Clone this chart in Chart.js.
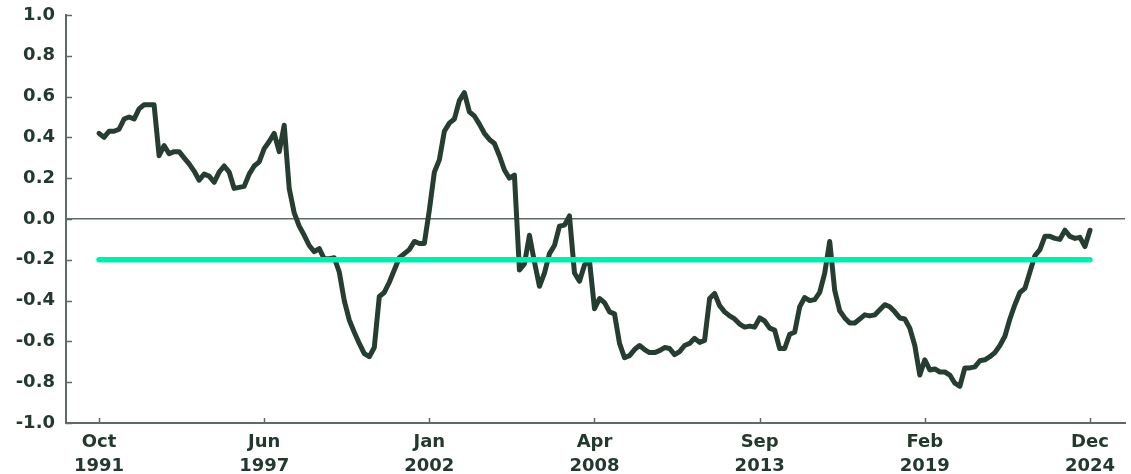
<!DOCTYPE html>
<html><head><meta charset="utf-8">
<script src="https://cdn.jsdelivr.net/npm/chart.js@4.4.1/dist/chart.umd.min.js"></script>
<style>html,body{margin:0;padding:0;background:#fff}#wrap{width:1131px;height:474px}</style>
</head><body><div id="wrap"><canvas id="c" width="1131" height="474"></canvas></div>
<script>
const tickLabels = [["Oct","1991"],["Jun","1997"],["Jan","2002"],["Apr","2008"],["Sep","2013"],["Feb","2019"],["Dec","2024"]];
const pointsPerTick = 33;
const threshold = -0.2;
const yMin = -1.0, yMax = 1.0, yStep = 0.2;
const series = [
  0.42,0.40,0.43,0.43,0.44,0.49,0.50,0.49,0.54,0.56,
  0.56,0.56,0.31,0.36,0.32,0.33,0.33,0.30,0.27,0.235,
  0.19,0.22,0.21,0.18,0.23,0.26,0.23,0.15,0.155,0.16,
  0.22,0.26,0.28,0.345,0.38,0.42,0.33,0.46,0.15,0.03,
  -0.035,-0.08,-0.13,-0.16,-0.145,-0.195,-0.195,-0.19,-0.26,-0.40,
  -0.495,-0.555,-0.61,-0.66,-0.675,-0.63,-0.38,-0.36,-0.31,-0.25,
  -0.19,-0.17,-0.15,-0.11,-0.12,-0.12,0.044,0.23,0.29,0.43,
  0.47,0.49,0.58,0.62,0.525,0.505,0.465,0.42,0.39,0.37,
  0.31,0.24,0.20,0.215,-0.25,-0.22,-0.08,-0.21,-0.33,-0.265,
  -0.17,-0.13,-0.035,-0.03,0.015,-0.265,-0.305,-0.225,-0.205,-0.44,
  -0.39,-0.41,-0.455,-0.465,-0.61,-0.68,-0.67,-0.64,-0.62,-0.64,
  -0.655,-0.655,-0.645,-0.63,-0.635,-0.665,-0.65,-0.62,-0.61,-0.585,
  -0.605,-0.595,-0.39,-0.365,-0.425,-0.455,-0.475,-0.49,-0.515,-0.53,
  -0.525,-0.53,-0.485,-0.50,-0.535,-0.545,-0.635,-0.635,-0.565,-0.555,
  -0.43,-0.385,-0.40,-0.395,-0.36,-0.265,-0.11,-0.35,-0.45,-0.485,
  -0.51,-0.51,-0.49,-0.47,-0.475,-0.47,-0.445,-0.42,-0.43,-0.455,
  -0.485,-0.49,-0.535,-0.62,-0.765,-0.69,-0.74,-0.735,-0.75,-0.75,
  -0.765,-0.805,-0.82,-0.73,-0.73,-0.725,-0.695,-0.69,-0.675,-0.655,
  -0.62,-0.575,-0.49,-0.42,-0.36,-0.34,-0.26,-0.18,-0.15,-0.085,
  -0.085,-0.095,-0.10,-0.055,-0.085,-0.095,-0.09,-0.135,-0.055
];

const TEXT = '#23392e';
const AXIS = '#5e6b65';
const LINE = '#263d31';
const TEAL = '#00efb0';
const FONT = {family: '"DejaVu Sans", sans-serif', weight: 'bold', size: 18, lineHeight: 1.34};

const innerTicks = {
  id: 'innerTicks',
  afterDraw(chart) {
    const ctx = chart.ctx;
    const xs = chart.scales.x, ys = chart.scales.y;
    ctx.save();
    ctx.strokeStyle = AXIS;
    ctx.lineWidth = 1.5;
    ctx.beginPath();
    ys.ticks.forEach(t => {
      const y = Math.round(ys.getPixelForValue(t.value)) + 0.5;
      ctx.moveTo(ys.right, y); ctx.lineTo(ys.right + 6, y);
    });
    xs.ticks.forEach(t => {
      const x = Math.round(xs.getPixelForValue(t.value)) + 0.5;
      ctx.moveTo(x, xs.top); ctx.lineTo(x, xs.top - 5);
    });
    ctx.stroke();
    ctx.restore();
  }
};

new Chart(document.getElementById('c'), {
  type: 'line',
  data: {
    datasets: [
      {
        data: series.map((_, i) => ({x: i, y: threshold})),
        borderColor: TEAL, borderWidth: 5.5, borderCapStyle: 'round',
        pointRadius: 0, order: 0
      },
      {
        data: series.map((v, i) => ({x: i, y: v})),
        borderColor: LINE, borderWidth: 5, borderJoinStyle: 'round', borderCapStyle: 'round',
        pointRadius: 0, tension: 0, order: 1
      }
    ]
  },
  options: {
    responsive: false,
    animation: false,
    devicePixelRatio: 1,
    layout: {padding: {top: 15, right: 6, left: 0, bottom: 0}},
    plugins: {legend: {display: false}, tooltip: {enabled: false}},
    scales: {
      x: {
        type: 'linear',
        min: -6.6, max: 205,
        afterBuildTicks: s => { s.ticks = tickLabels.map((_, i) => ({value: i * pointsPerTick})); },
        afterFit: s => { s.height = 51; s.paddingLeft = 0; s.paddingRight = 0; },
        grid: {display: false},
        border: {display: true, color: AXIS, width: 2},
        ticks: {
          color: TEXT, font: FONT, padding: -1, maxRotation: 0, autoSkip: false,
          callback: v => tickLabels[Math.round(v / pointsPerTick)]
        }
      },
      y: {
        min: yMin, max: yMax,
        afterFit: s => { s.width = 66; s.paddingTop = 0; s.paddingBottom = 0; },
        grid: {
          drawTicks: false, lineWidth: 1.5,
          color: c => (c.tick && Math.abs(c.tick.value) < 1e-9) ? AXIS : 'rgba(0,0,0,0)'
        },
        border: {display: true, color: AXIS, width: 2},
        ticks: {
          stepSize: yStep, color: TEXT, font: FONT, padding: 11,
          callback: v => (Math.abs(v) < 1e-9 ? 0 : v).toFixed(1)
        }
      }
    }
  },
  plugins: [innerTicks]
});
</script>
</body></html>
